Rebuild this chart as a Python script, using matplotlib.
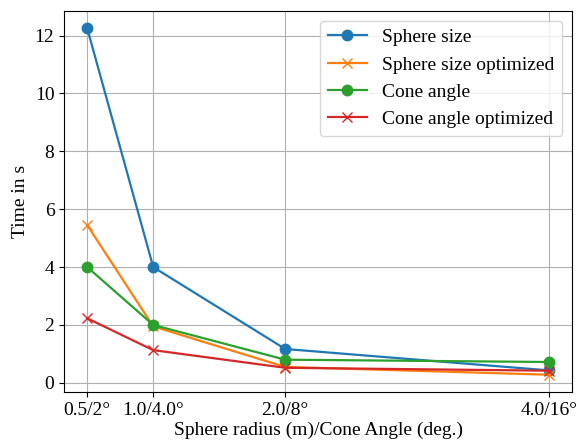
import matplotlib
matplotlib.use("Agg")
import matplotlib.pyplot as plt

plt.rcParams['font.family'] = ['Liberation Serif', 'DejaVu Serif']
plt.rcParams['font.size'] = 14
plt.rcParams['lines.linewidth'] = 1.6
plt.rcParams['lines.markersize'] = 7.5

# data
x = [0.5, 1.0, 2.0, 4.0]
tick_labels = ["0.5/2°", "1.0/4.0°", "2.0/8°", "4.0/16°"]
sphere = [12.25, 4.0, 1.17, 0.43]
sphere_opt = [5.45, 1.95, 0.55, 0.28]
cone = [4.0, 2.0, 0.8, 0.72]
cone_opt = [2.23, 1.13, 0.52, 0.42]

fig, ax = plt.subplots(figsize=(5.78, 4.43), dpi=100)
ax.plot(x, sphere, marker='o', label="Sphere size")
ax.plot(x, sphere_opt, marker='x', label="Sphere size optimized")
ax.plot(x, cone, marker='o', label="Cone angle")
ax.plot(x, cone_opt, marker='x', label="Cone angle optimized")

ax.set_xticks(x)
ax.set_xticklabels(tick_labels)
ax.set_xlabel("Sphere radius (m)/Cone Angle (deg.)", labelpad=2)
ax.set_ylabel("Time in s")
ax.grid(True)
ax.legend(loc='upper right')

plt.subplots_adjust(left=0.111, right=0.99, top=0.975, bottom=0.115)
plt.savefig("out.png", dpi=100)
